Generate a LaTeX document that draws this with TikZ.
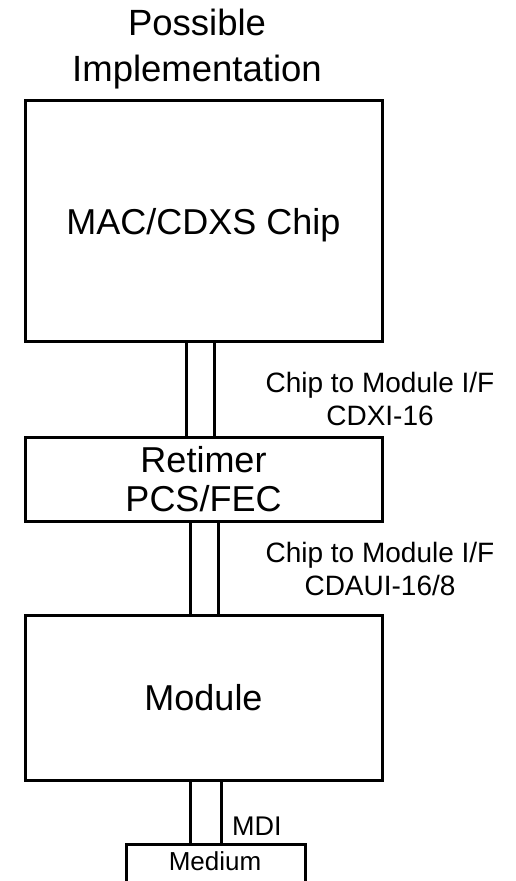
\documentclass[tikz,border=0pt]{standalone}
\usepackage{fontspec}
\setmainfont{Liberation Sans}
\begin{document}
\begin{tikzpicture}[x=1pt,y=-1pt,
  block/.style={draw, line width=3pt, inner sep=0pt, outer sep=0pt,
    minimum width=357pt, align=center, font=\fontsize{36}{39.5}\selectfont},
  busbar/.style={draw, line width=3pt},
  iflabel/.style={inner sep=0pt, align=center, font=\fontsize{28}{32.5}\selectfont}]
\useasboundingbox (0,0) rectangle (516,881);
\clip (0,0) rectangle (516,881);

% heading
\node[inner sep=0pt, align=center, font=\fontsize{36.5}{46}\selectfont] (title)
  at (197,49.5) {Possible\\Implementation};

% main blocks
\node[block, minimum height=241pt, text depth=0pt] (chip) at (203.5,221) {MAC/CDXS Chip};
\node[block, minimum height=83.5pt] (retimer) at (203.5,479.25) {Retimer\\PCS/FEC};
\node[block, minimum height=165pt] (module) at (203.5,697.5) {Module};
\node[draw, line width=3pt, inner sep=0pt, outer sep=0pt,
  minimum width=178.5pt, minimum height=60pt] (medium) at (215.75,874) {};
\node[anchor=base, inner sep=0pt, font=\fontsize{26}{30}\selectfont] (mediumtext)
  at (215,870) {Medium};

% interface buses
\draw[busbar] ([xshift=-17.5pt]chip.south) rectangle ([xshift=10.5pt]retimer.north);
\draw[busbar] ([xshift=-13.5pt]retimer.south) rectangle ([xshift=15pt]module.north);
\draw[busbar] ([xshift=-13.5pt]module.south) rectangle ([xshift=5.25pt]medium.north);

% interface names
\node[iflabel] (cdxi) at (380,399) {Chip to Module I/F\\CDXI-16};
\node[iflabel] (cdaui) at (380,569) {Chip to Module I/F\\CDAUI-16/8};
\node[anchor=base west, inner sep=0pt, font=\fontsize{27}{30}\selectfont] (mdi)
  at (232,835) {MDI};
\end{tikzpicture}
\end{document}
